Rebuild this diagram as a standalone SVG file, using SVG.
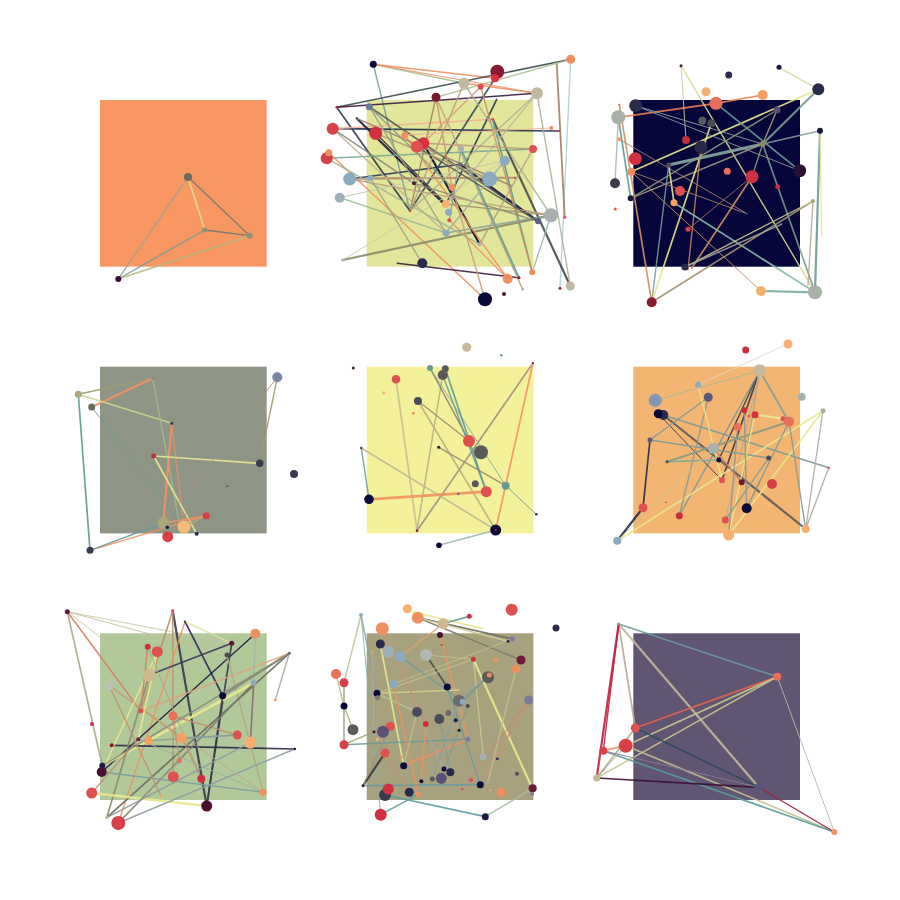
<svg xmlns="http://www.w3.org/2000/svg" width="900" height="900" viewBox="0 0 900 900">
<style>
line{stroke-linecap:round;stroke-opacity:.9}
line:not([stroke-width]){stroke-width:1.4}
</style>
<rect width="900" height="900" fill="#ffffff"/>

<!-- PANEL 1 -->
<g id="panel1">
<rect x="100" y="100" width="166.7" height="166.7" fill="#F99763"/>
<g id="p1-connectors">
<line x1="188" y1="177" x2="204.7" y2="230" stroke="#d4e48c" stroke-width="1.5"/>
<line x1="188" y1="177" x2="249.7" y2="235.7" stroke="#6e7a6a" stroke-width="1.3"/>
<line x1="204.7" y1="230" x2="249.7" y2="235.7" stroke="#6e7a6a" stroke-width="1.3"/>
<line x1="118.3" y1="279" x2="188" y2="177" stroke="#a8a090"/>
<line x1="118.3" y1="279" x2="204.7" y2="230" stroke="#7a9a9a"/>
<line x1="118.3" y1="279" x2="249.7" y2="235.7" stroke="#b8b880" stroke-width="1.6"/>
</g>
<g id="p1n1"><circle cx="188" cy="177" r="4" fill="#6b6b60"/></g>
<g id="p1n2"><circle cx="204.7" cy="230" r="2.5" fill="#8e9470"/></g>
<g id="p1n3"><circle cx="249.7" cy="235.7" r="3" fill="#8e9470"/></g>
<g id="p1n4"><circle cx="118.3" cy="279" r="3" fill="#3a0a3a"/></g>
</g>

<!-- PANEL 2 -->
<g id="panel2">
<rect x="366.7" y="100" width="166.7" height="166.7" fill="#E2E69A"/>
<g id="p2-connectors">
<line x1="373.3" y1="64.3" x2="464" y2="83.3" stroke="#a8c090"/>
<line x1="373.3" y1="64.3" x2="495" y2="78.3" stroke="#f09060"/>
<line x1="373.3" y1="64.3" x2="410" y2="211" stroke="#7a9a98"/>
<line x1="570.7" y1="59.3" x2="336.7" y2="107.3" stroke="#3a4a4a" stroke-width="1.6"/>
<line x1="570.7" y1="59.3" x2="560" y2="288.3" stroke="#b0d0d0"/>
<line x1="556.7" y1="63" x2="564.7" y2="217.3" stroke="#a08060" stroke-width="1.8"/>
<line x1="570.7" y1="59.3" x2="436" y2="97.3" stroke="#a8c090"/>
<line x1="336.7" y1="107.3" x2="537" y2="93.3" stroke="#3a1a40" stroke-width="1.5"/>
<line x1="336.7" y1="107.3" x2="410" y2="211" stroke="#2a3a4a" stroke-width="1.7"/>
<line x1="332.7" y1="128.7" x2="559" y2="131" stroke="#1a2a50" stroke-width="1.7"/>
<line x1="332.7" y1="128.7" x2="492.7" y2="119.3" stroke="#f0b090"/>
<line x1="356.7" y1="118.3" x2="443" y2="203" stroke="#1a1a3a" stroke-width="2.2"/>
<line x1="369.3" y1="106.7" x2="536.7" y2="220" stroke="#5a5a5a" stroke-width="1.7"/>
<line x1="375.7" y1="133.3" x2="446" y2="204" stroke="#3a3a4a" stroke-width="1.5"/>
<line x1="326.7" y1="158.3" x2="533" y2="149" stroke="#7aaa98" stroke-width="1.5"/>
<line x1="328.7" y1="152.7" x2="485" y2="299.3" stroke="#f09060" stroke-width="1.5"/>
<line x1="349.7" y1="179" x2="460" y2="164.3" stroke="#2a3a5a" stroke-width="1.7"/>
<line x1="349.7" y1="179" x2="515" y2="177.7" stroke="#a09070"/>
<line x1="339.7" y1="197.7" x2="446" y2="233" stroke="#9ab890"/>
<line x1="342.7" y1="260" x2="551" y2="215.3" stroke="#8a8a6a" stroke-width="2.2"/>
<line x1="397.3" y1="263.3" x2="518" y2="277.7" stroke="#3a1a40" stroke-width="1.5"/>
<line x1="423.3" y1="143.3" x2="479.7" y2="244.3" stroke="#0a0a3a" stroke-width="2.2"/>
<line x1="460" y1="164.3" x2="538" y2="221.3" stroke="#1a1a40" stroke-width="2.2"/>
<line x1="495" y1="78.3" x2="410" y2="211" stroke="#3a4a5a" stroke-width="1.7"/>
<line x1="496.7" y1="99.3" x2="446" y2="204" stroke="#2a3a4a" stroke-width="1.7"/>
<line x1="492.7" y1="119.3" x2="570.3" y2="286" stroke="#4a4a4a" stroke-width="2.2"/>
<line x1="492.7" y1="119.3" x2="532.3" y2="272.3" stroke="#5a9a98" stroke-width="1.7"/>
<line x1="436" y1="97.3" x2="410" y2="211" stroke="#a08060"/>
<line x1="464" y1="83.3" x2="537" y2="93.3" stroke="#f09060" stroke-width="1.5"/>
<line x1="480.7" y1="86.7" x2="532.3" y2="272.3" stroke="#d09060"/>
<line x1="404.7" y1="135" x2="507.7" y2="278.7" stroke="#f09060" stroke-width="1.5"/>
<line x1="436" y1="97.3" x2="522.7" y2="289.3" stroke="#c0a080"/>
<line x1="446" y1="204" x2="551" y2="215.3" stroke="#a09070"/>
<line x1="370.3" y1="178" x2="515" y2="177.7" stroke="#c09070" stroke-width="1.7"/>
<line x1="414" y1="183.3" x2="538" y2="221.3" stroke="#8a8a7a"/>
<line x1="342.7" y1="260" x2="504.7" y2="160.7" stroke="#c0d0a0" stroke-width="1"/>
<line x1="532.3" y1="272.3" x2="551" y2="215.3" stroke="#9ab8a8"/>
<line x1="570.3" y1="286" x2="537" y2="93.3" stroke="#b0b098"/>
<line x1="373.3" y1="64.3" x2="537" y2="93.3" stroke="#f09060" stroke-width="1"/>
<line x1="537" y1="93.3" x2="446" y2="204" stroke="#c0b8a0"/>
<line x1="537" y1="93.3" x2="410" y2="211" stroke="#b0b090"/>
<line x1="349.7" y1="179" x2="551" y2="215.3" stroke="#c0a080"/>
<line x1="461" y1="149" x2="519" y2="277.7" stroke="#5a9a98" stroke-width="1.7"/>
<line x1="449.3" y1="220.3" x2="507.7" y2="278.7" stroke="#f09060"/>
<line x1="356.7" y1="118.3" x2="512" y2="186" stroke="#a08070"/>
<line x1="369.3" y1="106.7" x2="452" y2="187.3" stroke="#8a9a80"/>
<line x1="436" y1="97.3" x2="452" y2="187.3" stroke="#d09060"/>
<line x1="332.7" y1="128.7" x2="446" y2="233" stroke="#c0b090"/>
<line x1="551" y1="215.3" x2="446" y2="233" stroke="#8aa0a0"/>
<line x1="326.7" y1="158.3" x2="479.7" y2="244.3" stroke="#a0b090"/>
<line x1="416.7" y1="146.7" x2="538" y2="221.3" stroke="#5a5a5a" stroke-width="1.5"/>
<line x1="369.3" y1="106.7" x2="446" y2="233" stroke="#9aa080"/>
<line x1="375.7" y1="133.3" x2="489.7" y2="179" stroke="#a89878"/>
<line x1="332.7" y1="128.7" x2="414" y2="183.3" stroke="#8a8a78"/>
<line x1="464" y1="83.3" x2="410" y2="211" stroke="#c09a78"/>
<line x1="464" y1="83.3" x2="551" y2="215.3" stroke="#a8b098"/>
<line x1="480.7" y1="86.7" x2="423.3" y2="143.3" stroke="#d0a080"/>
<line x1="504.7" y1="160.7" x2="446" y2="233" stroke="#9ab0a8"/>
<line x1="404.7" y1="135" x2="551.3" y2="128" stroke="#f0b090" stroke-width="1"/>
<line x1="339.7" y1="197.7" x2="504.7" y2="160.7" stroke="#c0c8a8" stroke-width="1"/>
<line x1="423.3" y1="143.3" x2="533" y2="149" stroke="#c09a80"/>
<line x1="452" y1="187.3" x2="485" y2="299.3" stroke="#c8a080"/>
<line x1="461" y1="149" x2="449.3" y2="220.3" stroke="#8aa0a0"/>
<line x1="370.3" y1="178" x2="422.3" y2="263.3" stroke="#a0a080"/>
<line x1="533" y1="149" x2="479.7" y2="244.3" stroke="#b0a088"/>
</g>
<g id="p2n1"><circle cx="373.3" cy="64.3" r="3.5" fill="#0a0a3a"/></g>
<g id="p2n2"><circle cx="497.3" cy="71.7" r="7" fill="#8a1a30"/></g>
<g id="p2n3"><circle cx="495" cy="78.3" r="4" fill="#d83040"/></g>
<g id="p2n4"><circle cx="464" cy="83.3" r="5.5" fill="#c0b8a0"/></g>
<g id="p2n5"><circle cx="480.7" cy="86.7" r="3" fill="#e05050"/></g>
<g id="p2n6"><circle cx="570.7" cy="59.3" r="4.5" fill="#f09060"/></g>
<g id="p2n7"><circle cx="537" cy="93.3" r="6" fill="#c0b8a0"/></g>
<g id="p2n8"><circle cx="436" cy="97.3" r="4.5" fill="#7a1a30"/></g>
<g id="p2n9"><circle cx="336.7" cy="107.3" r="1.3" fill="#c03040"/></g>
<g id="p2n10"><circle cx="369.3" cy="106.7" r="3.5" fill="#6a7a98"/></g>
<g id="p2n11"><circle cx="356.7" cy="118.3" r=".8" fill="#333"/></g>
<g id="p2n12"><circle cx="492.7" cy="119.3" r="1.5" fill="#e05050"/></g>
<g id="p2n13"><circle cx="332.7" cy="128.7" r="6" fill="#d84048"/></g>
<g id="p2n14"><circle cx="375.7" cy="133.3" r="6.5" fill="#d03040"/></g>
<g id="p2n15"><circle cx="404.7" cy="135" r="3.5" fill="#f09060"/></g>
<g id="p2n16"><circle cx="551.3" cy="128" r="2" fill="#f09060"/></g>
<g id="p2n17"><circle cx="559" cy="131" r="1" fill="#d03040"/></g>
<g id="p2n18"><circle cx="423.3" cy="143.3" r="6" fill="#d83040"/></g>
<g id="p2n19"><circle cx="416.7" cy="146.7" r="6" fill="#e05050"/></g>
<g id="p2n20"><circle cx="326.7" cy="158.3" r="6" fill="#d84048"/></g>
<g id="p2n21"><circle cx="328.7" cy="152.7" r="3.5" fill="#f09060"/></g>
<g id="p2n22"><circle cx="533" cy="149" r="4" fill="#e05050"/></g>
<g id="p2n23"><circle cx="461" cy="149" r="3" fill="#a8b0b0"/></g>
<g id="p2n24"><circle cx="504.7" cy="160.7" r="5" fill="#8aaac0"/></g>
<g id="p2n25"><circle cx="460" cy="164.3" r="2" fill="#5a6a7a"/></g>
<g id="p2n26"><circle cx="349.7" cy="179" r="6.5" fill="#8aaac0"/></g>
<g id="p2n27"><circle cx="370.3" cy="178" r="3" fill="#8aaac0"/></g>
<g id="p2n28"><circle cx="489.7" cy="179" r="7.5" fill="#8aaac0"/></g>
<g id="p2n29"><circle cx="414" cy="183.3" r="2" fill="#4a1a3a"/></g>
<g id="p2n30"><circle cx="452" cy="187.3" r="3.3" fill="#f09060"/></g>
<g id="p2n31"><circle cx="339.7" cy="197.7" r="5" fill="#a0b0b8"/></g>
<g id="p2n32"><circle cx="551" cy="215.3" r="7" fill="#a8b0b0"/></g>
<g id="p2n33"><circle cx="446" cy="204" r="4" fill="#f5b070"/></g>
<g id="p2n34"><circle cx="448.7" cy="212.3" r="3.5" fill="#8aaac0"/></g>
<g id="p2n35"><circle cx="449.3" cy="220.3" r="2" fill="#e05050"/></g>
<g id="p2n36"><circle cx="538" cy="221.3" r="3" fill="#5a6080"/></g>
<g id="p2n37"><circle cx="564.7" cy="217.3" r="1.5" fill="#e05050"/></g>
<g id="p2n38"><circle cx="446" cy="233" r="3.5" fill="#8aaac0"/></g>
<g id="p2n39"><circle cx="479.7" cy="244.3" r="2" fill="#a8b0b0"/></g>
<g id="p2n40"><circle cx="342.7" cy="260" r="1.5" fill="#a8b0b0"/></g>
<g id="p2n41"><circle cx="422.3" cy="263.3" r="5" fill="#2a2a4a"/></g>
<g id="p2n42"><circle cx="532.3" cy="272.3" r="3" fill="#f09060"/></g>
<g id="p2n43"><circle cx="507.7" cy="278.7" r="5" fill="#f09060"/></g>
<g id="p2n44"><circle cx="519" cy="277.7" r="1.5" fill="#8a1a30"/></g>
<g id="p2n45"><circle cx="570.3" cy="286" r="4.5" fill="#c0b8a0"/></g>
<g id="p2n46"><circle cx="560" cy="288.3" r="1.5" fill="#a02040"/></g>
<g id="p2n47"><circle cx="522.7" cy="289.3" r="1.2" fill="#8aaac0"/></g>
<g id="p2n48"><circle cx="504" cy="294" r="2" fill="#4a1a3a"/></g>
<g id="p2n49"><circle cx="485" cy="299.3" r="7" fill="#0a0a3a"/></g>
<g id="p2n50"><circle cx="410" cy="211" r="1" fill="#d03040"/></g>
<g id="p2n51"><circle cx="515" cy="177.7" r="1" fill="#d03040"/></g>
</g>

<!-- PANEL 3 -->
<g id="panel3">
<rect x="633.3" y="100" width="166.7" height="166.7" fill="#07063A"/>
<g id="p3-connectors">
<line x1="618.3" y1="117.3" x2="716" y2="103.3" stroke="#f08050" stroke-width="1.7"/>
<line x1="716" y1="103.3" x2="762.7" y2="95" stroke="#f08050" stroke-width="1.7"/>
<line x1="681" y1="65.7" x2="686" y2="140" stroke="#c8c8a0" stroke-width="1"/>
<line x1="681" y1="65.7" x2="815" y2="292.3" stroke="#d8d890"/>
<line x1="779" y1="67.3" x2="818.3" y2="89.3" stroke="#d8d8a0"/>
<line x1="631.3" y1="171.7" x2="818.3" y2="89.3" stroke="#e8e890" stroke-width="1.7"/>
<line x1="818.3" y1="89.3" x2="762.7" y2="144" stroke="#7a9a98" stroke-width="2.2"/>
<line x1="668.7" y1="165" x2="762.7" y2="144" stroke="#8aaaa0" stroke-width="3"/>
<line x1="716" y1="103.3" x2="799.7" y2="170.7" stroke="#6a9a98" stroke-width="1.7"/>
<line x1="762.7" y1="144" x2="777" y2="110" stroke="#a8a080"/>
<line x1="762.7" y1="144" x2="815" y2="292.3" stroke="#7a9a90" stroke-width="1.7"/>
<line x1="762.7" y1="144" x2="820" y2="130.7" stroke="#8a9a9a"/>
<line x1="762.7" y1="144" x2="752" y2="176.7" stroke="#8a9a80"/>
<line x1="762.7" y1="144" x2="630.7" y2="198.3" stroke="#a09a80"/>
<line x1="635.7" y1="105.7" x2="762.7" y2="144" stroke="#8aa0a0" stroke-width="1"/>
<line x1="618.3" y1="117.3" x2="630.7" y2="198.3" stroke="#5a9a98" stroke-width="1.7"/>
<line x1="618.3" y1="117.3" x2="615" y2="183.3" stroke="#a8b8b0"/>
<line x1="619.3" y1="104.7" x2="651.7" y2="302.3" stroke="#d09060" stroke-width="1.7"/>
<line x1="619.3" y1="139.3" x2="747" y2="213.7" stroke="#a08070" stroke-width="1"/>
<line x1="668.7" y1="165" x2="674" y2="202.7" stroke="#e8e890" stroke-width="1.7"/>
<line x1="668.7" y1="165" x2="651.7" y2="302.3" stroke="#7a9aa0"/>
<line x1="711.3" y1="123.3" x2="651.7" y2="302.3" stroke="#e8e890" stroke-width="1.7"/>
<line x1="701" y1="147.3" x2="688" y2="270" stroke="#c08060"/>
<line x1="752" y1="176.7" x2="691.7" y2="268.3" stroke="#d09060" stroke-width="1.7"/>
<line x1="674" y1="202.7" x2="815" y2="292.3" stroke="#8ab8a8" stroke-width="1.7"/>
<line x1="651.7" y1="302.3" x2="813" y2="201" stroke="#a09070" stroke-width="1.7"/>
<line x1="685" y1="267" x2="813" y2="201" stroke="#c8c890"/>
<line x1="685" y1="267" x2="781.3" y2="224.3" stroke="#a8a8a0"/>
<line x1="761" y1="291" x2="815" y2="292.3" stroke="#7aaaa0" stroke-width="2.2"/>
<line x1="820" y1="130.7" x2="815" y2="292.3" stroke="#6a9a98" stroke-width="2.2"/>
<line x1="820" y1="130.7" x2="821.7" y2="236" stroke="#e8e890"/>
<line x1="813" y1="201" x2="808" y2="285" stroke="#b8a890"/>
<line x1="630.7" y1="198.3" x2="777" y2="110" stroke="#8a9a80"/>
<line x1="631.3" y1="171.7" x2="747" y2="213.7" stroke="#a08070" stroke-width="1"/>
<line x1="635.7" y1="105.7" x2="799.7" y2="170.7" stroke="#8a9a98" stroke-width="1"/>
<line x1="631.3" y1="171.7" x2="761" y2="291" stroke="#c89070" stroke-width="1"/>
<line x1="688" y1="229.3" x2="752" y2="176.7" stroke="#a07060" stroke-width="1"/>
</g>
<g id="p3n1"><circle cx="681" cy="65.7" r="1.5" fill="#3a1a3a"/></g>
<g id="p3n2"><circle cx="728.7" cy="75" r="3.5" fill="#2a2a4a"/></g>
<g id="p3n3"><circle cx="779" cy="67.3" r="2.5" fill="#1a1a40"/></g>
<g id="p3n4"><circle cx="706" cy="91.7" r="4.5" fill="#f5b070"/></g>
<g id="p3n5"><circle cx="762.7" cy="95" r="5" fill="#f5a060"/></g>
<g id="p3n6"><circle cx="818.3" cy="89.3" r="6" fill="#2a2a4a"/></g>
<g id="p3n7"><circle cx="635.7" cy="105.7" r="6.5" fill="#2a2a4a"/></g>
<g id="p3n8"><circle cx="716" cy="103.3" r="6.5" fill="#e87058"/></g>
<g id="p3n9"><circle cx="619.3" cy="104.7" r="1" fill="#f07050"/></g>
<g id="p3n10"><circle cx="618.3" cy="117.3" r="7" fill="#a8b0a8"/></g>
<g id="p3n11"><circle cx="777" cy="110" r="3.5" fill="#5a5070"/></g>
<g id="p3n12"><circle cx="702.3" cy="120.7" r="4" fill="#5a5a58"/></g>
<g id="p3n13"><circle cx="711.3" cy="123.3" r="4" fill="#4a4a50"/></g>
<g id="p3n14"><circle cx="820" cy="130.7" r="3" fill="#1a1a40"/></g>
<g id="p3n15"><circle cx="686" cy="140" r="4" fill="#c03040"/></g>
<g id="p3n16"><circle cx="701" cy="147.3" r="6.5" fill="#2a2a48"/></g>
<g id="p3n17"><circle cx="762.7" cy="144" r="3" fill="#8a8a6a"/></g>
<g id="p3n18"><circle cx="635.3" cy="158.7" r="6.5" fill="#d03040"/></g>
<g id="p3n19"><circle cx="619.3" cy="139.3" r="2" fill="#f5a060"/></g>
<g id="p3n20"><circle cx="668.7" cy="165" r="2.5" fill="#4a4a58"/></g>
<g id="p3n21"><circle cx="631.3" cy="171.7" r="4" fill="#f09060"/></g>
<g id="p3n22"><circle cx="727.3" cy="171.3" r="3.5" fill="#e87058"/></g>
<g id="p3n23"><circle cx="752" cy="176.7" r="6.5" fill="#d03040"/></g>
<g id="p3n24"><circle cx="799.7" cy="170.7" r="6.5" fill="#2a1030"/></g>
<g id="p3n25"><circle cx="615" cy="183.3" r="5" fill="#3a3a48"/></g>
<g id="p3n26"><circle cx="777.7" cy="186.7" r="2.5" fill="#c03040"/></g>
<g id="p3n27"><circle cx="680" cy="191" r="5" fill="#e05050"/></g>
<g id="p3n28"><circle cx="630.7" cy="198.3" r="3" fill="#1a1a40"/></g>
<g id="p3n29"><circle cx="674" cy="202.7" r="3.5" fill="#f5a060"/></g>
<g id="p3n30"><circle cx="813" cy="201" r="2" fill="#a8a870"/></g>
<g id="p3n31"><circle cx="615.3" cy="209" r="1.5" fill="#e05050"/></g>
<g id="p3n32"><circle cx="747" cy="213.7" r="1" fill="#3a3a58"/></g>
<g id="p3n33"><circle cx="781.3" cy="224.3" r="1" fill="#7a7a9a"/></g>
<g id="p3n34"><circle cx="688" cy="229.3" r="2.5" fill="#d84048"/></g>
<g id="p3n35"><circle cx="685" cy="267" r="3.5" fill="#2a2a48"/></g>
<g id="p3n36"><circle cx="761" cy="291" r="5" fill="#f5b070"/></g>
<g id="p3n37"><circle cx="815" cy="292.3" r="7" fill="#a8b0a8"/></g>
<g id="p3n38"><circle cx="651.7" cy="302.3" r="5" fill="#8a1a30"/></g>
</g>

<!-- PANEL 4 -->
<g id="panel4">
<rect x="100" y="366.7" width="166.7" height="166.7" fill="#8E9585"/>
<g id="p4-connectors">
<line x1="78.3" y1="394.3" x2="152.7" y2="378.3" stroke="#a09a70"/>
<line x1="91.7" y1="407" x2="152.7" y2="378.3" stroke="#f59060" stroke-width="2.2"/>
<line x1="78.3" y1="394.3" x2="171.7" y2="423.3" stroke="#c8d890" stroke-width="1.7"/>
<line x1="78.3" y1="394.3" x2="90" y2="550.3" stroke="#5a9a90" stroke-width="1.7"/>
<line x1="91.7" y1="407" x2="184" y2="527" stroke="#6a9a98" stroke-width="1"/>
<line x1="152.7" y1="378.3" x2="180" y2="527" stroke="#a0b890"/>
<line x1="171.7" y1="423.3" x2="163.3" y2="523" stroke="#f59060" stroke-width="2.2"/>
<line x1="171.7" y1="423.3" x2="184" y2="527" stroke="#d09070" stroke-width="1.7"/>
<line x1="171.7" y1="423.3" x2="206.3" y2="515.7" stroke="#a09080" stroke-width="1"/>
<line x1="153.7" y1="456" x2="259.7" y2="463.3" stroke="#e8e890" stroke-width="1.7"/>
<line x1="153.7" y1="456" x2="196.7" y2="533.7" stroke="#e8e890" stroke-width="1.7"/>
<line x1="277.3" y1="377.3" x2="259.7" y2="463.3" stroke="#a09a70"/>
<line x1="277.3" y1="377.3" x2="163.3" y2="523" stroke="#a89080" stroke-width="1"/>
<line x1="90" y1="550.3" x2="206.3" y2="515.7" stroke="#f59060"/>
<line x1="90" y1="550.3" x2="163.3" y2="523" stroke="#6a9a98"/>
<line x1="163.3" y1="523" x2="206.3" y2="515.7" stroke="#f59060"/>
<line x1="184" y1="527" x2="206.3" y2="515.7" stroke="#a8a878" stroke-width="1.7"/>
<line x1="227.3" y1="486.3" x2="167.3" y2="527.3" stroke="#8a9a88" stroke-width=".7"/>
</g>
<g id="p4n1"><circle cx="78.3" cy="394.3" r="3.5" fill="#a8a878"/></g>
<g id="p4n2"><circle cx="91.7" cy="407" r="3.5" fill="#6b6b5b"/></g>
<g id="p4n3"><circle cx="152.7" cy="378.3" r="1.5" fill="#7a8aa0"/></g>
<g id="p4n4"><circle cx="171.7" cy="423.3" r="1.5" fill="#3a3a4a"/></g>
<g id="p4n5"><circle cx="153.7" cy="456" r="2.5" fill="#c0303a"/></g>
<g id="p4n6"><circle cx="277.3" cy="377.3" r="5" fill="#7a86a8"/></g>
<g id="p4n7"><circle cx="259.7" cy="463.3" r="3.7" fill="#3a3a50"/></g>
<g id="p4n8"><circle cx="294" cy="474" r="4" fill="#3a3a50"/></g>
<g id="p4n9"><circle cx="227.3" cy="486.3" r=".8" fill="#3a3a50"/></g>
<g id="p4n10"><circle cx="206.3" cy="515.7" r="3.5" fill="#d84048"/></g>
<g id="p4n11"><circle cx="163.3" cy="523" r="6" fill="#a8a878"/></g>
<g id="p4n12"><circle cx="184" cy="527" r="6.5" fill="#f5bb78"/></g>
<g id="p4n13"><circle cx="167.3" cy="527.3" r="1.8" fill="#1a1a40"/></g>
<g id="p4n14"><circle cx="167.7" cy="536.7" r="5.5" fill="#d84048"/></g>
<g id="p4n15"><circle cx="196.7" cy="533.7" r="2" fill="#2a2a4a"/></g>
<g id="p4n16"><circle cx="90" cy="550.3" r="3.5" fill="#3a3a50"/></g>
</g>

<!-- PANEL 5 -->
<g id="panel5">
<rect x="366.7" y="366.7" width="166.7" height="166.7" fill="#F4F19B"/>
<g id="p5-connectors">
<line x1="396" y1="379.3" x2="417" y2="530.7" stroke="#c8c090" stroke-width="1.7"/>
<line x1="442.7" y1="375" x2="417" y2="530.7" stroke="#b8b080" stroke-width="1.5"/>
<line x1="533" y1="363" x2="417" y2="530.7" stroke="#a09080" stroke-width="1.7"/>
<line x1="533" y1="363" x2="495.7" y2="530" stroke="#f59060" stroke-width="1.7"/>
<line x1="430" y1="368" x2="469" y2="441" stroke="#8a7a78" stroke-width="1.5"/>
<line x1="430" y1="368" x2="505.7" y2="485.7" stroke="#8aa8a0" stroke-width="1"/>
<line x1="445.3" y1="368.7" x2="486.3" y2="491.7" stroke="#5a9a98" stroke-width="1.7"/>
<line x1="442.7" y1="375" x2="486.3" y2="491.7" stroke="#6a9a98"/>
<line x1="418" y1="401" x2="495.7" y2="530" stroke="#b8b080" stroke-width="1.7"/>
<line x1="418" y1="401" x2="469" y2="441" stroke="#a08870"/>
<line x1="438.7" y1="447.3" x2="505.7" y2="485.7" stroke="#a08870" stroke-width="1.5"/>
<line x1="505.7" y1="485.7" x2="536.3" y2="514.3" stroke="#6a9a98" stroke-width="1"/>
<line x1="361.3" y1="448" x2="369" y2="499.3" stroke="#6a9a98"/>
<line x1="361.3" y1="448" x2="495.7" y2="530" stroke="#c0b890" stroke-width="1.7"/>
<line x1="369" y1="499.3" x2="486.3" y2="491.7" stroke="#f09060" stroke-width="2.7"/>
<line x1="495.7" y1="530" x2="439" y2="545.3" stroke="#9ab8b0"/>
</g>
<g id="p5n1"><circle cx="466.7" cy="347.3" r="4.5" fill="#c8b898"/></g>
<g id="p5n2"><circle cx="501.3" cy="355.3" r="1.3" fill="#6a9a98"/></g>
<g id="p5n3"><circle cx="353.3" cy="368" r="1.5" fill="#4a1a3a"/></g>
<g id="p5n4"><circle cx="533" cy="363" r="1" fill="#4a1a3a"/></g>
<g id="p5n5"><circle cx="430" cy="368" r="3" fill="#6a9a98"/></g>
<g id="p5n6"><circle cx="445.3" cy="368.7" r="3.5" fill="#5a5a5a"/></g>
<g id="p5n7"><circle cx="442.7" cy="375" r="5" fill="#5a5a5a"/></g>
<g id="p5n8"><circle cx="396" cy="379.3" r="4.3" fill="#e05050"/></g>
<g id="p5n9"><circle cx="383.7" cy="392.7" r="1.5" fill="#f5b070"/></g>
<g id="p5n10"><circle cx="418" cy="401" r="4" fill="#4a4a58"/></g>
<g id="p5n11"><circle cx="413.3" cy="413.3" r="1.2" fill="#f07050"/></g>
<g id="p5n12"><circle cx="361.3" cy="448" r="1.3" fill="#4a4a60"/></g>
<g id="p5n13"><circle cx="438.7" cy="447.3" r="1.5" fill="#1a1a40"/></g>
<g id="p5n14"><circle cx="469" cy="441" r="6" fill="#e05050"/></g>
<g id="p5n15"><circle cx="481" cy="452.3" r="7" fill="#5a5a5a"/></g>
<g id="p5n16"><circle cx="475.3" cy="483.7" r="3.5" fill="#5a5a5a"/></g>
<g id="p5n17"><circle cx="486.3" cy="491.7" r="5.5" fill="#e05050"/></g>
<g id="p5n18"><circle cx="505.7" cy="485.7" r="4" fill="#6a9a98"/></g>
<g id="p5n19"><circle cx="458.3" cy="494" r="1.3" fill="#6a6a8a"/></g>
<g id="p5n20"><circle cx="369" cy="499.3" r="4.8" fill="#0a0a3a"/></g>
<g id="p5n21"><circle cx="536.3" cy="514.3" r="1.3" fill="#2a2a4a"/></g>
<g id="p5n22"><circle cx="417" cy="530.7" r="1.3" fill="#7a1a3a"/></g>
<g id="p5n23"><circle cx="495.7" cy="530" r="5.5" fill="#0a0a3a"/><circle cx="495.7" cy="530" r="1.3" fill="#8a1a30"/></g>
<g id="p5n24"><circle cx="439" cy="545.3" r="2.8" fill="#0a0a3a"/></g>
</g>

<!-- PANEL 6 -->
<g id="panel6">
<rect x="633.3" y="366.7" width="166.7" height="166.7" fill="#F3B572"/>
<g id="p6-connectors">
<line x1="698" y1="384.7" x2="788" y2="344" stroke="#e0d8c8" stroke-width="1"/>
<line x1="655.3" y1="400.3" x2="759.7" y2="370.7" stroke="#a8b8a0" stroke-width="1"/>
<line x1="759.7" y1="370.7" x2="718.7" y2="460" stroke="#3a3a4a"/>
<line x1="759.7" y1="370.7" x2="722" y2="480.3" stroke="#3a3a4a" stroke-width="1.7"/>
<line x1="759.7" y1="370.7" x2="679.3" y2="515.7" stroke="#7a9a98"/>
<line x1="759.7" y1="370.7" x2="789" y2="421.7" stroke="#7a9a98" stroke-width="1.7"/>
<line x1="759.7" y1="370.7" x2="741.7" y2="482.3" stroke="#a8a880"/>
<line x1="759.7" y1="370.7" x2="725.3" y2="520" stroke="#c8a890"/>
<line x1="663.3" y1="415" x2="805.7" y2="529" stroke="#5a5a5a" stroke-width="2.2"/>
<line x1="658.3" y1="413.7" x2="722" y2="480.3" stroke="#3a3a4a" stroke-width="1"/>
<line x1="663.3" y1="415" x2="828.7" y2="467.7" stroke="#7a9a98" stroke-width="1.7"/>
<line x1="650" y1="440" x2="643" y2="507.7" stroke="#2a2a4a" stroke-width="1.7"/>
<line x1="643" y1="507.7" x2="617.3" y2="540.7" stroke="#2a2a4a" stroke-width="2.2"/>
<line x1="617.3" y1="540.7" x2="823" y2="410.7" stroke="#e8e890" stroke-width="1.7"/>
<line x1="650" y1="440" x2="708.3" y2="397.3" stroke="#7a9a98"/>
<line x1="650" y1="440" x2="768.7" y2="458" stroke="#7a9a98"/>
<line x1="667" y1="461.7" x2="718.7" y2="460" stroke="#7aaaa0" stroke-width="1.7"/>
<line x1="667" y1="461.7" x2="789" y2="421.7" stroke="#8a9a80" stroke-width="2.2"/>
<line x1="708.3" y1="397.3" x2="679.3" y2="515.7" stroke="#8a9a90"/>
<line x1="755" y1="414.7" x2="783" y2="418.7" stroke="#e8e890" stroke-width="2.2"/>
<line x1="755" y1="414.7" x2="728.7" y2="535" stroke="#e8e890"/>
<line x1="823" y1="410.7" x2="728.7" y2="535" stroke="#e8e890" stroke-width="1.7"/>
<line x1="823" y1="410.7" x2="805.7" y2="529" stroke="#b0b0a0"/>
<line x1="828.7" y1="467.7" x2="805.7" y2="529" stroke="#b0a8a0"/>
<line x1="768.7" y1="458" x2="725.3" y2="520" stroke="#8a9a90"/>
<line x1="789" y1="421.7" x2="805.7" y2="529" stroke="#8a9a90"/>
<line x1="789" y1="421.7" x2="746.7" y2="508.3" stroke="#7a9a98"/>
<line x1="744.3" y1="410.3" x2="746.7" y2="508.3" stroke="#8a9a90"/>
<line x1="698" y1="384.7" x2="722" y2="480.3" stroke="#e8e890"/>
<line x1="617.3" y1="540.7" x2="713.3" y2="448.3" stroke="#c8c890" stroke-width="1"/>
<line x1="737.7" y1="427" x2="728.7" y2="535" stroke="#8a9a90"/>
<line x1="713.3" y1="448.3" x2="741.7" y2="482.3" stroke="#c08070"/>
</g>
<g id="p6n1"><circle cx="745.7" cy="350" r="3.5" fill="#c83040"/></g>
<g id="p6n2"><circle cx="788" cy="344" r="4.5" fill="#f5b070"/></g>
<g id="p6n3"><circle cx="759.7" cy="370.7" r="6.5" fill="#c8b898"/></g>
<g id="p6n4"><circle cx="698" cy="384.7" r="3" fill="#8aaac0"/></g>
<g id="p6n5"><circle cx="655.3" cy="400.3" r="6.5" fill="#8098b8"/></g>
<g id="p6n6"><circle cx="708.3" cy="397.3" r="4.5" fill="#5a5a80"/></g>
<g id="p6n7"><circle cx="801.7" cy="396.7" r="4" fill="#a8b0b0"/></g>
<g id="p6n8"><circle cx="823" cy="410.7" r="2.5" fill="#a8b0a0"/></g>
<g id="p6n9"><circle cx="663.3" cy="415" r="5" fill="#2a2a4a"/></g>
<g id="p6n10"><circle cx="658.3" cy="413.7" r="4.5" fill="#0a0a3a"/></g>
<g id="p6n11"><circle cx="744.3" cy="410.3" r="3" fill="#c83040"/></g>
<g id="p6n12"><circle cx="755" cy="414.7" r="3.5" fill="#d83040"/></g>
<g id="p6n13"><circle cx="749" cy="416" r="1.5" fill="#e05050"/></g>
<g id="p6n14"><circle cx="783" cy="418.7" r="2.5" fill="#e05050"/></g>
<g id="p6n15"><circle cx="789" cy="421.7" r="5" fill="#e87058"/></g>
<g id="p6n16"><circle cx="737.7" cy="427" r="4" fill="#e87058"/></g>
<g id="p6n17"><circle cx="650" cy="440" r="2.5" fill="#5a5a80"/></g>
<g id="p6n18"><circle cx="713.3" cy="448.3" r="5.5" fill="#a8b0b0"/></g>
<g id="p6n19"><circle cx="667" cy="461.7" r="1.5" fill="#4a4a4a"/></g>
<g id="p6n20"><circle cx="718.7" cy="460" r="2.5" fill="#0a0a3a"/></g>
<g id="p6n21"><circle cx="768.7" cy="458" r="2.5" fill="#4a4a5a"/></g>
<g id="p6n22"><circle cx="828.7" cy="467.7" r="1" fill="#c03040"/></g>
<g id="p6n23"><circle cx="722" cy="480.3" r="3" fill="#e05050"/></g>
<g id="p6n24"><circle cx="741.7" cy="482.3" r="3" fill="#6a1a3a"/></g>
<g id="p6n25"><circle cx="772" cy="484" r="5" fill="#d84048"/></g>
<g id="p6n26"><circle cx="666" cy="502.3" r=".6" fill="#0a0a3a"/></g>
<g id="p6n27"><circle cx="643" cy="507.7" r="4.5" fill="#e05050"/></g>
<g id="p6n28"><circle cx="746.7" cy="508.3" r="5" fill="#0a0a3a"/></g>
<g id="p6n29"><circle cx="679.3" cy="515.7" r="3.5" fill="#c83040"/></g>
<g id="p6n30"><circle cx="725.3" cy="520" r="3.5" fill="#e05050"/></g>
<g id="p6n31"><circle cx="728.7" cy="535" r="5.5" fill="#f5b070"/></g>
<g id="p6n32"><circle cx="805.7" cy="529" r="4" fill="#f5b070"/></g>
<g id="p6n33"><circle cx="617.3" cy="540.7" r="4" fill="#8aaac0"/></g>
</g>

<!-- PANEL 7 -->
<g id="panel7">
<rect x="100" y="633.3" width="166.7" height="166.7" fill="#B1C999"/>
<g id="p7-connectors">
<line x1="67.3" y1="611.7" x2="227" y2="655" stroke="#c8c0a0" stroke-width="1"/>
<line x1="67.3" y1="611.7" x2="140.7" y2="711" stroke="#d08060" stroke-width="1.5"/>
<line x1="67.3" y1="611.7" x2="102.3" y2="765.7" stroke="#a8a890" stroke-width="1.7"/>
<line x1="67.3" y1="611.7" x2="231.7" y2="643.3" stroke="#c8c8a8" stroke-width="1"/>
<line x1="67.3" y1="611.7" x2="149.3" y2="675" stroke="#d8c0a0" stroke-width="1"/>
<line x1="172.7" y1="610.7" x2="206.7" y2="806" stroke="#3a3a4a" stroke-width="2.2"/>
<line x1="172.7" y1="610.7" x2="140.7" y2="711" stroke="#c09070" stroke-width="1.7"/>
<line x1="172.7" y1="610.7" x2="173.3" y2="776.7" stroke="#c09070" stroke-width="1.5"/>
<line x1="185" y1="621.7" x2="222.7" y2="695.7" stroke="#2a2a5a" stroke-width="1.7"/>
<line x1="185" y1="621.7" x2="118.3" y2="823" stroke="#f09060"/>
<line x1="185" y1="621.7" x2="231.7" y2="643.3" stroke="#e0e0a0"/>
<line x1="255.3" y1="633.7" x2="101.7" y2="772" stroke="#1a1a40"/>
<line x1="255.3" y1="633.7" x2="253.7" y2="683" stroke="#9ab8a8"/>
<line x1="231.7" y1="643.3" x2="149.3" y2="675" stroke="#3a3a5a" stroke-width="1.7"/>
<line x1="231.7" y1="643.3" x2="206.7" y2="806" stroke="#3a3a4a" stroke-width="1.7"/>
<line x1="227" y1="655" x2="263" y2="792.3" stroke="#b0a880"/>
<line x1="289.3" y1="653.3" x2="222.7" y2="695.7" stroke="#8a8a7a" stroke-width="2.2"/>
<line x1="289.3" y1="653.3" x2="106.7" y2="817.7" stroke="#6a6a5a" stroke-width="1.7"/>
<line x1="289.3" y1="653.3" x2="275.3" y2="700" stroke="#a8a8a0"/>
<line x1="289.3" y1="653.3" x2="140.7" y2="711" stroke="#e0a080"/>
<line x1="253.7" y1="683" x2="102.3" y2="765.7" stroke="#e8e890" stroke-width="2.7"/>
<line x1="253.7" y1="683" x2="250.3" y2="742.7" stroke="#8a6a7a" stroke-width="1.7"/>
<line x1="222.7" y1="695.7" x2="206.7" y2="806" stroke="#3a3a4a" stroke-width="1.7"/>
<line x1="111.7" y1="745.3" x2="294.7" y2="749" stroke="#2a2a4a" stroke-width="1.7"/>
<line x1="109.3" y1="685.7" x2="181.7" y2="738" stroke="#d09060" stroke-width="1.5"/>
<line x1="149.3" y1="675" x2="106.7" y2="817.7" stroke="#8a8a70" stroke-width="1.7"/>
<line x1="157.3" y1="651.7" x2="138.3" y2="739.3" stroke="#e8e890" stroke-width="1.7"/>
<line x1="157.3" y1="651.7" x2="101.7" y2="772" stroke="#e8e890" stroke-width="1.5"/>
<line x1="173" y1="716" x2="237.3" y2="735" stroke="#c09070" stroke-width="1.7"/>
<line x1="148.7" y1="740.7" x2="237.3" y2="735" stroke="#8a9a98"/>
<line x1="101.7" y1="772" x2="263" y2="792.3" stroke="#7a9aa0"/>
<line x1="91.7" y1="793" x2="206.7" y2="806" stroke="#e8e890" stroke-width="2.7"/>
<line x1="91.7" y1="793" x2="138.3" y2="739.3" stroke="#c09070"/>
<line x1="118.3" y1="823" x2="294.7" y2="749" stroke="#8a9aa0"/>
<line x1="118.3" y1="823" x2="253.7" y2="683" stroke="#7a7a6a" stroke-width="1.7"/>
<line x1="181.7" y1="738" x2="201.3" y2="778.7" stroke="#c09070"/>
<line x1="179.3" y1="760.7" x2="118.3" y2="823" stroke="#a0a090"/>
<line x1="147.7" y1="646.7" x2="140.7" y2="711" stroke="#d08060"/>
<line x1="109.3" y1="685.7" x2="161.3" y2="796.7" stroke="#c09070"/>
<line x1="102.3" y1="765.7" x2="289.3" y2="653.3" stroke="#8a8a7a" stroke-width="1.5"/>
<line x1="173" y1="716" x2="179.3" y2="760.7" stroke="#c09070"/>
<line x1="250.3" y1="742.7" x2="106.7" y2="817.7" stroke="#8a9a98"/>
<line x1="181.7" y1="738" x2="237.3" y2="735" stroke="#8aa0a0"/>
<line x1="109.3" y1="685.7" x2="263" y2="792.3" stroke="#c0a888" stroke-width="1"/>
<line x1="147.7" y1="646.7" x2="201.3" y2="778.7" stroke="#a8a080" stroke-width="1"/>
<line x1="138.3" y1="739.3" x2="263" y2="792.3" stroke="#9ab0a0" stroke-width="1"/>
</g>
<g id="p7n1"><circle cx="67.3" cy="611.7" r="2.5" fill="#5a1a3a"/></g>
<g id="p7n2"><circle cx="172.7" cy="610.7" r="1.5" fill="#e05050"/></g>
<g id="p7n3"><circle cx="185" cy="621.7" r="1.2" fill="#3a3a5a"/></g>
<g id="p7n4"><circle cx="255.3" cy="633.7" r="5" fill="#f09060"/></g>
<g id="p7n5"><circle cx="147.7" cy="646.7" r="3" fill="#d03040"/></g>
<g id="p7n6"><circle cx="157.3" cy="651.7" r="5.5" fill="#e05050"/></g>
<g id="p7n7"><circle cx="231.7" cy="643.3" r="2.5" fill="#5a1a3a"/></g>
<g id="p7n8"><circle cx="227" cy="655" r="2.5" fill="#4a4a5a"/></g>
<g id="p7n9"><circle cx="289.3" cy="653.3" r="1.5" fill="#6a6a8a"/></g>
<g id="p7n10"><circle cx="149.3" cy="675" r="6.5" fill="#d0b890"/></g>
<g id="p7n11"><circle cx="109.3" cy="685.7" r="4.5" fill="#c0c0b0"/></g>
<g id="p7n12"><circle cx="253.7" cy="683" r="3" fill="#8aaac0"/></g>
<g id="p7n13"><circle cx="222.7" cy="695.7" r="3.5" fill="#0a0a3a"/></g>
<g id="p7n14"><circle cx="275.3" cy="700" r="1.2" fill="#f09060"/></g>
<g id="p7n15"><circle cx="140.7" cy="711" r="2.5" fill="#e05050"/></g>
<g id="p7n16"><circle cx="92" cy="724" r="2" fill="#d03040"/></g>
<g id="p7n17"><circle cx="173" cy="716" r="4.5" fill="#e87058"/></g>
<g id="p7n18"><circle cx="237.3" cy="735" r="4.5" fill="#e05050"/></g>
<g id="p7n19"><circle cx="181.7" cy="738" r="5" fill="#f5a060"/></g>
<g id="p7n20"><circle cx="148.7" cy="740.7" r="4" fill="#f5a060"/></g>
<g id="p7n21"><circle cx="250.3" cy="742.7" r="6" fill="#f5b070"/></g>
<g id="p7n22"><circle cx="138.3" cy="739.3" r="2" fill="#6a1a3a"/></g>
<g id="p7n23"><circle cx="111.7" cy="745.3" r="2" fill="#8a1a30"/></g>
<g id="p7n24"><circle cx="294.7" cy="749" r="1.2" fill="#0a0a3a"/></g>
<g id="p7n25"><circle cx="179.3" cy="760.7" r="2.5" fill="#e87058"/></g>
<g id="p7n26"><circle cx="102.3" cy="765.7" r="3" fill="#1a1a40"/></g>
<g id="p7n27"><circle cx="101.7" cy="772" r="5" fill="#4a1030"/></g>
<g id="p7n28"><circle cx="173.3" cy="776.7" r="5.5" fill="#e05050"/></g>
<g id="p7n29"><circle cx="201.3" cy="778.7" r="4" fill="#d03040"/></g>
<g id="p7n30"><circle cx="91.7" cy="793" r="5.5" fill="#e05050"/></g>
<g id="p7n31"><circle cx="263" cy="792.3" r="3.5" fill="#f09060"/></g>
<g id="p7n32"><circle cx="161.3" cy="796.7" r="1.5" fill="#f5b070"/></g>
<g id="p7n33"><circle cx="206.7" cy="806" r="5.5" fill="#4a1030"/></g>
<g id="p7n34"><circle cx="106.7" cy="817.7" r="1.5" fill="#d0b890"/></g>
<g id="p7n35"><circle cx="118.3" cy="823" r="7" fill="#d84048"/></g>
</g>

<!-- PANEL 8 -->
<g id="panel8">
<rect x="366.7" y="633.3" width="166.7" height="166.7" fill="#A7A27D"/>
<g id="p8-connectors">
<line x1="412" y1="611.7" x2="481.7" y2="628.3" stroke="#e8e890" stroke-width="1.7"/>
<line x1="443.3" y1="623.7" x2="469.3" y2="616.3" stroke="#5a9a98" stroke-width="1.7"/>
<line x1="417.7" y1="617.7" x2="512.3" y2="639" stroke="#6a6a5a" stroke-width="1.7"/>
<line x1="417.7" y1="617.7" x2="521" y2="660" stroke="#7a7a6a" stroke-width="1.5"/>
<line x1="417.7" y1="617.7" x2="508" y2="641.3" stroke="#d0d0a0"/>
<line x1="361" y1="615" x2="344" y2="682.7" stroke="#c0c090"/>
<line x1="361" y1="615" x2="377" y2="693.3" stroke="#8aa0a0"/>
<line x1="361" y1="615" x2="380.7" y2="814.7" stroke="#8ab0a0" stroke-width="1"/>
<line x1="380.3" y1="644" x2="403.7" y2="765.7" stroke="#e8e890" stroke-width="1.7"/>
<line x1="473.3" y1="659.3" x2="532.3" y2="788.3" stroke="#e8e890" stroke-width="2.2"/>
<line x1="473.3" y1="659.3" x2="483.3" y2="757" stroke="#c8c890"/>
<line x1="344" y1="682.7" x2="344" y2="744.7" stroke="#8a9a80"/>
<line x1="344" y1="706" x2="353" y2="729.7" stroke="#b0b070"/>
<line x1="344" y1="744.7" x2="467.7" y2="739.3" stroke="#6a9a98"/>
<line x1="426" y1="655" x2="447.3" y2="687" stroke="#4a4a4a" stroke-width="1.7"/>
<line x1="447.3" y1="687" x2="480.3" y2="784.7" stroke="#6a9aa0"/>
<line x1="440" y1="635" x2="467.7" y2="739.3" stroke="#f09060" stroke-width="1.7"/>
<line x1="377" y1="693.3" x2="459" y2="690" stroke="#d0d090" stroke-width="1.5"/>
<line x1="403.7" y1="765.7" x2="467.7" y2="739.3" stroke="#f09060" stroke-width="1.7"/>
<line x1="363" y1="785.7" x2="385" y2="753" stroke="#3a3a3a" stroke-width="2.2"/>
<line x1="380.7" y1="814.7" x2="418.3" y2="794.3" stroke="#5a9a98" stroke-width="1.5"/>
<line x1="385" y1="795" x2="485.3" y2="816.7" stroke="#5a9aa0" stroke-width="1.7"/>
<line x1="485.3" y1="816.7" x2="532.7" y2="788.3" stroke="#a8c0a0"/>
<line x1="363" y1="785.7" x2="480.3" y2="784.7" stroke="#6a9aa0" stroke-width="1.7"/>
<line x1="528.7" y1="700" x2="480.3" y2="784.7" stroke="#d09070"/>
<line x1="516" y1="669" x2="488" y2="781.7" stroke="#c0c090"/>
<line x1="512.3" y1="639" x2="393.3" y2="684" stroke="#c0c090" stroke-width="1"/>
<line x1="462.7" y1="701.7" x2="489.3" y2="675" stroke="#6a9a98"/>
<line x1="443.3" y1="623.7" x2="400.3" y2="656.7" stroke="#e0a070"/>
<line x1="382.3" y1="628.7" x2="425.7" y2="724" stroke="#d09070"/>
<line x1="336" y1="674" x2="344" y2="706" stroke="#c0c090"/>
<line x1="377" y1="693.3" x2="417" y2="712" stroke="#c0c090"/>
<line x1="417" y1="712" x2="403.7" y2="765.7" stroke="#c0c090"/>
<line x1="417" y1="712" x2="444" y2="769" stroke="#a8a8a0"/>
<line x1="439.3" y1="719" x2="450.3" y2="772.3" stroke="#8a9a98"/>
<line x1="459" y1="700.7" x2="432.3" y2="779" stroke="#8aa0a0"/>
<line x1="385" y1="753" x2="409.3" y2="792.3" stroke="#c09070"/>
<line x1="425.7" y1="724" x2="421.3" y2="781.3" stroke="#f09060"/>
<line x1="390.3" y1="726.3" x2="363" y2="785.7" stroke="#a09080"/>
<line x1="344" y1="744.7" x2="374" y2="731.7" stroke="#a0a070"/>
<line x1="372.3" y1="652" x2="374" y2="731.7" stroke="#a8b0a0" stroke-width="1"/>
<line x1="400.3" y1="656.7" x2="462.7" y2="701.7" stroke="#6a9aa0"/>
<line x1="467.7" y1="706" x2="441.3" y2="778.3" stroke="#8a9a90"/>
<line x1="393.3" y1="684" x2="418.3" y2="794.3" stroke="#f09060"/>
<line x1="528.7" y1="700" x2="462.3" y2="789.3" stroke="#d08070" stroke-width="1"/>
<line x1="488" y1="677.3" x2="459" y2="700.7" stroke="#8a9a98"/>
<line x1="426" y1="655" x2="473.3" y2="659.3" stroke="#c0c090" stroke-width="1"/>
<line x1="473.3" y1="659.3" x2="377" y2="693.3" stroke="#c8c890" stroke-width="1"/>
</g>
<g id="p8n1"><circle cx="407.3" cy="608.7" r="4.5" fill="#f5b070"/></g>
<g id="p8n2"><circle cx="511.7" cy="609.7" r="6" fill="#e05050"/></g>
<g id="p8n3"><circle cx="361" cy="615" r="2" fill="#8aaac0"/></g>
<g id="p8n4"><circle cx="417.7" cy="617.7" r="6" fill="#f09060"/></g>
<g id="p8n5"><circle cx="469.3" cy="616.3" r="2.5" fill="#d03040"/></g>
<g id="p8n6"><circle cx="443.3" cy="623.7" r="5.5" fill="#d0b890"/></g>
<g id="p8n7"><circle cx="556" cy="628" r="3.5" fill="#2a2a4a"/></g>
<g id="p8n8"><circle cx="382.3" cy="628.7" r="6.5" fill="#f09060"/></g>
<g id="p8n9"><circle cx="440" cy="635" r="3" fill="#4a1030"/></g>
<g id="p8n10"><circle cx="512.3" cy="639" r="2.5" fill="#7a7a9a"/></g>
<g id="p8n11"><circle cx="508" cy="641.3" r="1.5" fill="#2a2a4a"/></g>
<g id="p8n12"><circle cx="380.3" cy="644" r="4.5" fill="#2a2a4a"/></g>
<g id="p8n13"><circle cx="388.3" cy="651.7" r="6" fill="#a0b0b8"/></g>
<g id="p8n14"><circle cx="400.3" cy="656.7" r="5.5" fill="#8aaac0"/></g>
<g id="p8n15"><circle cx="426" cy="655" r="6" fill="#b0b8b0"/></g>
<g id="p8n16"><circle cx="372.3" cy="652" r="1.3" fill="#f5a060"/></g>
<g id="p8n17"><circle cx="441.7" cy="645" r="1" fill="#d03040"/></g>
<g id="p8n18"><circle cx="521" cy="660" r="4.5" fill="#6a1a3a"/></g>
<g id="p8n19"><circle cx="473.3" cy="659.3" r="2.5" fill="#d03040"/></g>
<g id="p8n20"><circle cx="495.7" cy="660.3" r="2.5" fill="#f09060"/></g>
<g id="p8n21"><circle cx="336" cy="674" r="5" fill="#e87058"/></g>
<g id="p8n22"><circle cx="344" cy="682.7" r="4.5" fill="#d84048"/></g>
<g id="p8n23"><circle cx="488" cy="677.3" r="6" fill="#5a5a5a"/></g>
<g id="p8n24"><circle cx="489.3" cy="675" r="2.5" fill="#f09060"/></g>
<g id="p8n25"><circle cx="516" cy="669" r="4" fill="#f09060"/></g>
<g id="p8n26"><circle cx="393.3" cy="684" r="4" fill="#8aaac0"/></g>
<g id="p8n27"><circle cx="447.3" cy="687" r="3.5" fill="#0a0a3a"/></g>
<g id="p8n28"><circle cx="377" cy="693.3" r="3.5" fill="#0a0a3a"/></g>
<g id="p8n29"><circle cx="377.7" cy="697.7" r="2.5" fill="#7a7a7a"/></g>
<g id="p8n30"><circle cx="344" cy="706" r="3.5" fill="#0a0a3a"/></g>
<g id="p8n31"><circle cx="459" cy="700.7" r="6" fill="#6a6a6a"/></g>
<g id="p8n32"><circle cx="462.7" cy="701.7" r="3" fill="#8aaac0"/></g>
<g id="p8n33"><circle cx="467.7" cy="706" r="2" fill="#4a4a5a"/></g>
<g id="p8n34"><circle cx="528.7" cy="700" r="4.5" fill="#7a7a9a"/></g>
<g id="p8n35"><circle cx="417" cy="712" r="5" fill="#4a4a5a"/></g>
<g id="p8n36"><circle cx="439.3" cy="719" r="5" fill="#4a4a5a"/></g>
<g id="p8n37"><circle cx="448.3" cy="713" r="3" fill="#6a6a6a"/></g>
<g id="p8n38"><circle cx="425.7" cy="724" r="3" fill="#d03040"/></g>
<g id="p8n39"><circle cx="455.7" cy="720.3" r="2" fill="#1a1a40"/></g>
<g id="p8n40"><circle cx="353" cy="729.7" r="5.5" fill="#5a5a5a"/></g>
<g id="p8n41"><circle cx="390.3" cy="726.3" r="4.5" fill="#e05050"/></g>
<g id="p8n42"><circle cx="383" cy="731.7" r="6" fill="#5a5078"/></g>
<g id="p8n43"><circle cx="374" cy="731.7" r="1.5" fill="#4a1030"/></g>
<g id="p8n44"><circle cx="459" cy="730.3" r="1.5" fill="#1a1a40"/></g>
<g id="p8n45"><circle cx="377.3" cy="739.3" r="1.5" fill="#f5b070"/></g>
<g id="p8n46"><circle cx="467.7" cy="739.3" r="2.5" fill="#7a7a9a"/></g>
<g id="p8n47"><circle cx="344" cy="744.7" r="4.5" fill="#d84048"/></g>
<g id="p8n48"><circle cx="385" cy="753" r="4.5" fill="#e05050"/></g>
<g id="p8n49"><circle cx="483.3" cy="757" r="3.5" fill="#a8b0b0"/></g>
<g id="p8n50"><circle cx="497.3" cy="758.7" r="1.5" fill="#3a3a5a"/></g>
<g id="p8n51"><circle cx="402" cy="757" r="1.5" fill="#f5a060"/></g>
<g id="p8n52"><circle cx="403.7" cy="765.7" r="3.5" fill="#0a0a3a"/></g>
<g id="p8n53"><circle cx="444" cy="769" r="2.5" fill="#0a0a3a"/></g>
<g id="p8n54"><circle cx="450.3" cy="772.3" r="4" fill="#2a2a4a"/></g>
<g id="p8n55"><circle cx="517" cy="773.7" r="2" fill="#4a4a5a"/></g>
<g id="p8n56"><circle cx="441.3" cy="778.3" r="5.5" fill="#5a5078"/></g>
<g id="p8n57"><circle cx="432.3" cy="779" r="2.5" fill="#5a5a5a"/></g>
<g id="p8n58"><circle cx="421.3" cy="781.3" r="2" fill="#0a0a3a"/></g>
<g id="p8n59"><circle cx="471" cy="780" r="2" fill="#e05050"/></g>
<g id="p8n60"><circle cx="480.3" cy="784.7" r="3.5" fill="#0a0a3a"/></g>
<g id="p8n61"><circle cx="488" cy="781.7" r="1.3" fill="#a8b0b0"/></g>
<g id="p8n62"><circle cx="462.3" cy="789.3" r="1" fill="#d03040"/></g>
<g id="p8n63"><circle cx="490" cy="790.3" r="1" fill="#f5b070"/></g>
<g id="p8n64"><circle cx="501" cy="792.3" r="4.5" fill="#f09060"/></g>
<g id="p8n65"><circle cx="409.3" cy="792.3" r="4.5" fill="#2a2a4a"/></g>
<g id="p8n66"><circle cx="418.3" cy="794.3" r="2.5" fill="#f09060"/></g>
<g id="p8n67"><circle cx="385" cy="795" r="6" fill="#3a3a4a"/></g>
<g id="p8n68"><circle cx="388.3" cy="789" r="5.5" fill="#d03040"/></g>
<g id="p8n69"><circle cx="363" cy="785.7" r="1.5" fill="#5a1a3a"/></g>
<g id="p8n70"><circle cx="532.7" cy="788.3" r="4" fill="#6a1a3a"/></g>
<g id="p8n71"><circle cx="532.3" cy="793.7" r="2" fill="#7a7a9a"/></g>
<g id="p8n72"><circle cx="380.7" cy="814.7" r="6" fill="#d03040"/></g>
<g id="p8n73"><circle cx="485.3" cy="816.7" r="3.5" fill="#1a1a40"/></g>
</g>

<!-- PANEL 9 -->
<g id="panel9">
<rect x="633.3" y="633.3" width="166.7" height="166.7" fill="#615574"/>
<g id="p9-connectors">
<line x1="618.7" y1="624" x2="777.3" y2="676.7" stroke="#6a9a98" stroke-width="1.7"/>
<line x1="618.7" y1="624" x2="758.7" y2="787.3" stroke="#c0b8a0" stroke-width="2.2"/>
<line x1="618.7" y1="624" x2="635.3" y2="728" stroke="#b8a890" stroke-width="1.7"/>
<line x1="618.7" y1="624" x2="596.7" y2="778" stroke="#c02040" stroke-width="2.2"/>
<line x1="618.7" y1="624" x2="603.3" y2="750.7" stroke="#c02040"/>
<line x1="777.3" y1="676.7" x2="635.3" y2="728" stroke="#e86048" stroke-width="1.7"/>
<line x1="777.3" y1="676.7" x2="625.7" y2="745.7" stroke="#c8c890" stroke-width="1.7"/>
<line x1="777.3" y1="676.7" x2="596.7" y2="778" stroke="#c8c890" stroke-width="1.5"/>
<line x1="777.3" y1="676.7" x2="834.3" y2="832" stroke="#b8b8a8" stroke-width="1"/>
<line x1="625.7" y1="745.7" x2="834.3" y2="832" stroke="#c0c090" stroke-width="1.7"/>
<line x1="603.3" y1="750.7" x2="834.3" y2="832" stroke="#5a9a98" stroke-width="1.7"/>
<line x1="596.7" y1="778" x2="758.7" y2="787.3" stroke="#3a1030" stroke-width="1.7"/>
<line x1="758.7" y1="787.3" x2="834.3" y2="832" stroke="#a02040"/>
<line x1="635.3" y1="728" x2="758.7" y2="787.3" stroke="#2a4a5a" stroke-width="1.5"/>
<line x1="603.3" y1="750.7" x2="625.7" y2="745.7" stroke="#f09060" stroke-width="1.7"/>
<line x1="596.7" y1="778" x2="625.7" y2="745.7" stroke="#a8a8b8" stroke-width="1"/>
<line x1="596.7" y1="778" x2="635.3" y2="728" stroke="#a8a070"/>
<line x1="603.3" y1="750.7" x2="758.7" y2="787.3" stroke="#8a7a90" stroke-width="1"/>
</g>
<g id="p9n1"><circle cx="618.7" cy="624" r="1.5" fill="#a09a80"/></g>
<g id="p9n2"><circle cx="777.3" cy="676.7" r="4" fill="#e87058"/></g>
<g id="p9n3"><circle cx="635.3" cy="728" r="4.5" fill="#e05050"/></g>
<g id="p9n4"><circle cx="625.7" cy="745.7" r="7" fill="#d84048"/></g>
<g id="p9n5"><circle cx="603.3" cy="750.7" r="4" fill="#d84048"/></g>
<g id="p9n6"><circle cx="596.7" cy="778" r="3.5" fill="#c8b898"/></g>
<g id="p9n7"><circle cx="758.7" cy="787.3" r="4" fill="#5a5278"/></g>
<g id="p9n8"><circle cx="834.3" cy="832" r="3" fill="#f59060"/></g>
</g>
</svg>
